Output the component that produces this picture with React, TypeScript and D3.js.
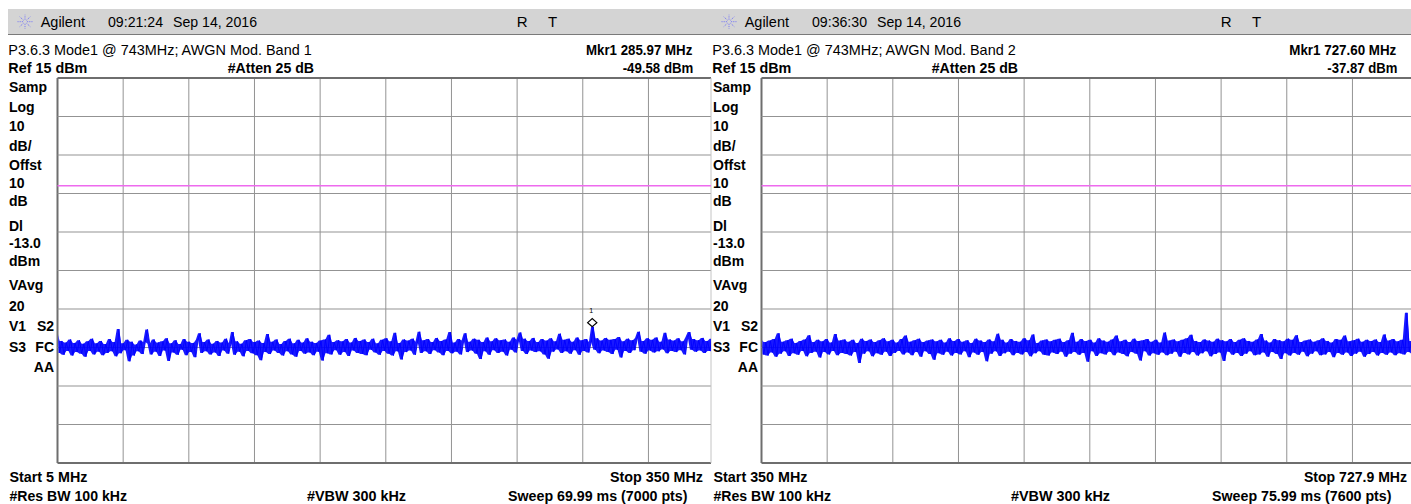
import React from 'react';
import * as d3 from 'd3';

// ---------- data ----------
const panelTimes = ['09:21:24', '09:36:30'];
const panelDates = ['Sep 14, 2016', 'Sep 14, 2016'];
const panelTitles = ['P3.6.3 Mode1 @ 743MHz; AWGN Mod. Band 1', 'P3.6.3 Mode1 @ 743MHz; AWGN Mod. Band 2'];
const markerFreqs = [285.97, 727.6];
const markerLevels = [-49.58, -37.87];
const startFreqs = [5, 350];
const stopFreqs = [350, 727.9];
const startLabels = ['Start 5 MHz', 'Start 350 MHz'];
const stopLabels = ['Stop 350 MHz', 'Stop 727.9 MHz'];
const sweepLabels = ['Sweep 69.99 ms (7000 pts)', 'Sweep 75.99 ms (7600 pts)'];
const refLevel = 15;
const dbPerDiv = 10;
const displayLine = -13;
const sideLabels = ['Samp', 'Log', '10', 'dB/', 'Offst', '10', 'dB', 'Dl', '-13.0', 'dBm', 'VAvg', '20', 'V1', 'S3', ''];
const sideLabels2 = ['', '', '', '', '', '', '', '', '', '', '', '', 'S2', 'FC', 'AA'];

const traceBand1 = [
  -51.4, -56.4, -53.3, -56.9, -53.7, -55.9, -52.9, -57.1, -53.8, -56.2,
  -53.1, -56.6, -54.0, -57.4, -53.4, -55.9, -52.7, -56.8, -53.9, -56.1,
  -53.3, -57.0, -54.1, -56.4, -52.8, -56.0, -53.6, -57.3, -50.2, -56.5,
  -53.9, -55.7, -53.0, -58.6, -53.5, -57.1, -54.2, -56.0, -53.2, -56.7,
  -53.6, -50.3, -54.0, -56.8, -52.9, -56.1, -53.7, -57.2, -53.4, -55.8,
  -52.6, -58.5, -53.9, -56.3, -53.1, -56.9, -54.1, -55.6, -52.8, -57.0,
  -53.5, -56.2, -53.8, -57.5, -53.0, -51.3, -56.4, -53.6, -56.0, -52.9,
  -56.8, -54.0, -56.3, -53.3, -57.2, -53.7, -55.8, -52.7, -56.6, -53.9,
  -51.0, -56.9, -53.4, -56.1, -54.0, -57.3, -53.1, -55.9, -52.8, -56.5,
  -53.6, -57.0, -53.2, -58.3, -53.8, -56.2, -51.5, -56.7, -53.5, -55.8,
  -52.9, -56.4, -54.1, -57.1, -53.3, -56.0, -52.7, -56.8, -53.9, -57.4,
  -53.0, -55.9, -53.7, -56.6, -52.6, -56.3, -53.5, -57.0, -53.8, -56.1,
  -53.2, -58.4, -52.9, -56.5, -51.7, -56.8, -53.6, -55.7, -53.1, -56.9,
  -53.4, -56.2, -52.8, -57.2, -53.7, -55.8, -52.5, -56.4, -53.3, -56.7,
  -52.9, -57.0, -53.6, -55.6, -52.7, -56.3, -53.9, -56.9, -53.0, -55.9,
  -52.6, -56.6, -53.4, -57.1, -51.2, -56.0, -53.8, -58.1, -52.9, -56.2,
  -53.2, -55.8, -52.7, -56.9, -53.5, -50.9, -56.4, -53.1, -56.0, -52.8,
  -56.7, -53.6, -55.7, -52.5, -56.3, -53.3, -57.0, -52.9, -55.9, -51.0,
  -56.5, -53.7, -56.1, -52.8, -56.8, -53.2, -51.3, -56.2, -53.5, -55.8,
  -52.7, -56.6, -53.0, -58.0, -53.6, -56.0, -52.4, -56.9, -53.4, -55.7,
  -52.6, -56.4, -53.1, -56.1, -52.9, -57.1, -53.5, -55.6, -52.4, -56.3,
  -53.0, -51.1, -55.9, -52.7, -56.7, -53.3, -55.8, -52.5, -56.2, -53.6,
  -56.0, -52.8, -56.8, -53.2, -57.9, -52.6, -56.1, -53.4, -55.5, -51.4,
  -56.4, -53.0, -56.0, -52.7, -56.6, -53.5, -55.7, -52.4, -56.9, -53.1,
  -55.9, -52.8, -56.3, -53.6, -49.6, -55.6, -52.6, -56.5, -53.2, -55.8,
  -52.5, -56.2, -53.0, -56.7, -52.8, -55.6, -52.3, -57.6, -53.4, -55.9,
  -52.7, -56.4, -53.1, -55.7, -52.5, -50.9, -56.1, -53.3, -56.6, -52.6,
  -55.8, -53.0, -56.3, -52.4, -56.0, -53.5, -55.5, -51.2, -56.5, -52.9,
  -55.9, -53.2, -56.2, -52.6, -55.7, -53.4, -56.8, -52.3, -51.0, -55.6,
  -52.8, -56.1, -53.1, -55.8, -52.5, -56.4, -53.3, -55.9, -52.7, -56.0,
];

const traceBand2 = [
  -53.0, -56.8, -53.6, -57.1, -53.2, -56.3, -52.8, -57.4, -51.3, -56.6,
  -53.5, -56.0, -53.1, -57.2, -52.7, -56.5, -53.8, -56.9, -53.3, -55.9,
  -52.9, -57.3, -51.8, -56.4, -53.6, -56.1, -53.0, -57.6, -53.4, -56.2,
  -52.8, -56.8, -53.7, -55.9, -51.5, -57.0, -53.2, -56.4, -52.9, -56.7,
  -53.5, -57.1, -53.0, -56.2, -53.8, -59.0, -52.7, -56.6, -53.3, -56.0,
  -52.9, -57.3, -53.6, -56.5, -53.1, -56.9, -52.6, -56.1, -53.4, -57.2,
  -53.0, -56.4, -53.7, -55.9, -52.8, -56.8, -51.9, -56.3, -53.5, -57.0,
  -53.1, -56.2, -52.7, -57.4, -53.6, -56.0, -53.2, -56.7, -52.9, -58.2,
  -53.4, -56.5, -53.0, -56.9, -53.7, -56.1, -52.6, -57.1, -53.3, -56.4,
  -52.8, -56.8, -53.5, -56.0, -53.1, -57.5, -53.8, -56.3, -52.7, -56.9,
  -53.2, -56.2, -53.6, -58.6, -52.9, -56.6, -53.4, -56.0, -51.4, -57.2,
  -53.0, -56.5, -53.7, -56.1, -52.8, -57.0, -53.3, -56.4, -53.5, -56.8,
  -52.6, -56.2, -53.1, -57.3, -51.6, -56.5, -53.8, -56.0, -53.2, -56.9,
  -52.9, -57.1, -53.4, -56.3, -53.0, -56.7, -52.7, -56.1, -53.6, -57.4,
  -53.1, -56.6, -51.2, -56.2, -53.5, -56.9, -52.8, -56.4, -53.3, -58.7,
  -53.0, -56.0, -53.7, -57.2, -52.6, -56.5, -53.2, -56.8, -53.5, -56.1,
  -52.9, -57.0, -51.9, -56.3, -53.4, -56.7, -53.0, -57.3, -53.6, -56.2,
  -52.7, -56.6, -53.3, -58.4, -53.1, -56.0, -52.8, -57.1, -53.5, -56.5,
  -53.0, -56.9, -53.7, -56.3, -51.1, -57.0, -53.2, -56.6, -52.9, -56.1,
  -53.4, -57.4, -53.0, -56.4, -52.6, -56.8, -51.7, -56.2, -53.3, -57.1,
  -53.6, -56.5, -52.9, -56.0, -53.2, -57.3, -53.5, -56.7, -52.7, -56.3,
  -53.1, -58.5, -53.4, -56.1, -52.8, -56.9, -53.6, -56.4, -53.0, -57.2,
  -52.6, -56.6, -53.3, -56.0, -53.5, -57.0, -52.9, -56.8, -51.5, -56.3,
  -53.2, -57.4, -53.7, -56.2, -52.8, -56.7, -53.1, -58.0, -53.4, -56.5,
  -52.7, -57.1, -53.0, -56.4, -51.8, -56.9, -53.6, -56.1, -53.2, -57.3,
  -52.9, -56.6, -53.5, -56.0, -53.1, -57.0, -52.6, -56.8, -53.3, -56.2,
  -53.7, -57.5, -52.8, -56.4, -53.0, -56.9, -51.9, -56.3, -53.4, -57.2,
  -53.1, -56.6, -52.7, -56.1, -53.5, -57.4, -53.0, -56.7, -53.3, -56.2,
  -52.9, -57.1, -53.6, -56.4, -51.6, -56.9, -53.2, -56.3, -52.8, -57.0,
  -53.4, -56.5, -53.0, -56.8, -46.0, -56.2, -53.3, -56.7, -53.1, -56.4,
];
const traces = [traceBand1, traceBand2];

// ---------- layout ----------
const W = 1411;
const H = 504;
const PANEL_DX = 704;
const GRID_L = 57.5;
const GRID_R = 714.1;
const GRID_T = 78;
const GRID_B = 463;
const PANEL_CLIP = [711, 1411];
const LABEL_Y = [91.7, 111.7, 130.7, 151, 170, 188.3, 206, 231, 248.3, 265.7, 290, 311, 331, 351.7, 371.7];

const regFont = "'Liberation Sans', Arial, sans-serif";
const narrowFont = "'Liberation Sans Narrow', 'Arial Narrow', 'Liberation Sans', sans-serif";

const mkrLen = [106.3, 107];
const lvlLen = [70.6, 70];
const startLen = [78, 94];
const stopLen = [93, 103];

function Panel({ k }: { k: number }) {
  const dx = PANEL_DX * k;
  const x = d3.scaleLinear().domain([startFreqs[k], stopFreqs[k]]).range([GRID_L + dx, GRID_R + dx]);
  const y = d3.scaleLinear().domain([refLevel - 10 * dbPerDiv, refLevel]).range([GRID_B, GRID_T]);
  const tr = traces[k];
  const step = (stopFreqs[k] - startFreqs[k]) / (tr.length - 1);
  const fx = (i: number) => x(startFreqs[k] + i * step);
  const line = d3.line<number>().x((_, i) => fx(i)).y((v) => y(v));
  // hull of each sample with its next neighbour: the dense core of the swept trace
  const lo = (i: number) => Math.min(tr[i], tr[Math.min(i + 1, tr.length - 1)]);
  const hi = (i: number) => Math.max(tr[i], tr[Math.min(i + 1, tr.length - 1)]);
  const band = d3.area<number>().x((_, i) => fx(i)).y0((_, i) => y(lo(i))).y1((_, i) => y(hi(i)));
  const vTicks = d3.range(11).map((i) => startFreqs[k] + (i * (stopFreqs[k] - startFreqs[k])) / 10);
  const hTicks = d3.range(11).map((j) => refLevel - j * dbPerDiv);
  const clipR = PANEL_CLIP[k];
  const mx = x(markerFreqs[k]);
  const my = y(markerLevels[k]);
  const showMarker = mx + 6 < clipR;
  const lx = 25 + dx;
  const ly = 21.7;
  const rays = d3.range(8).map((a) => (a * Math.PI) / 4);
  const sepX = k === 0 ? 711 : 0;

  return (
    <g>
      <defs>
        <clipPath id={`clipGrid${k}`}>
          <rect x={GRID_L + dx - 2} y={GRID_T - 2} width={clipR - (GRID_L + dx) + 2} height={GRID_B - GRID_T + 4} />
        </clipPath>
        <clipPath id={`clipTrace${k}`}>
          <rect x={GRID_L + dx + 1} y={GRID_T} width={clipR - (GRID_L + dx) - 1} height={GRID_B - GRID_T} />
        </clipPath>
      </defs>
      {/* title bar */}
      <rect x={8 + dx} y={9} width={(k === 0 ? 704 : W - 712)} height={25} fill="#d4d4d4" />
      <line x1={8 + dx} x2={k === 0 ? 712 : W} y1={34.5} y2={34.5} stroke="#7a7a7a" strokeWidth={1} />
      {rays.map((a, i) => (
        <line key={i} x1={lx + Math.cos(a) * 2} y1={ly + Math.sin(a) * 2} x2={lx + Math.cos(a) * 7.5} y2={ly + Math.sin(a) * 7}
          stroke="#7b7bf5" strokeWidth={1} strokeDasharray="1.2 1" />
      ))}
      <text x={40.7 + dx} y={26.7} fontFamily={regFont} fontSize={15} textLength={44.3} lengthAdjust="spacingAndGlyphs">Agilent</text>
      <text x={108 + dx} y={26.7} fontFamily={regFont} fontSize={15} textLength={55} lengthAdjust="spacingAndGlyphs">{panelTimes[k]}</text>
      <text x={173 + dx} y={26.7} fontFamily={regFont} fontSize={15} textLength={84} lengthAdjust="spacingAndGlyphs">{panelDates[k]}</text>
      <text x={516.7 + dx} y={26.7} fontFamily={regFont} fontSize={15}>R</text>
      <text x={548 + dx} y={26.7} fontFamily={regFont} fontSize={15}>T</text>

      {/* header lines */}
      <text x={8.3 + dx} y={55} fontFamily={regFont} fontSize={15} textLength={303.4} lengthAdjust="spacingAndGlyphs">{panelTitles[k]}</text>
      <text x={692.3 + dx} y={55} fontFamily={regFont} fontWeight="bold" fontSize={14} textAnchor="end" textLength={mkrLen[k]} lengthAdjust="spacingAndGlyphs">
        {`Mkr1  ${markerFreqs[k].toFixed(2)} MHz`}
      </text>
      <text x={8.3 + dx} y={73} fontFamily={regFont} fontWeight="bold" fontSize={14} textLength={79} lengthAdjust="spacingAndGlyphs">{`Ref ${refLevel} dBm`}</text>
      <text x={227.7 + dx} y={73} fontFamily={regFont} fontWeight="bold" fontSize={14} textLength={86.3} lengthAdjust="spacingAndGlyphs">#Atten 25 dB</text>
      <text x={693.3 + dx} y={73} fontFamily={regFont} fontWeight="bold" fontSize={14} textAnchor="end" textLength={lvlLen[k]} lengthAdjust="spacingAndGlyphs">
        {`${markerLevels[k].toFixed(2)} dBm`}
      </text>

      {/* side labels */}
      {sideLabels.map((s, i) => (
        <text key={'a' + i} x={9 + dx} y={LABEL_Y[i]} fontFamily={regFont} fontWeight="bold" fontSize={14}>{s}</text>
      ))}
      {sideLabels2.map((s, i) => (
        <text key={'b' + i} x={54 + dx} y={LABEL_Y[i]} fontFamily={regFont} fontWeight="bold" fontSize={14} textAnchor="end">{s}</text>
      ))}

      {/* grid */}
      <g clipPath={`url(#clipGrid${k})`}>
        {vTicks.map((f, i) => (
          <line key={'v' + i} x1={x(f)} x2={x(f)} y1={GRID_T} y2={GRID_B} stroke={i === 0 ? '#6e6e6e' : '#939393'} strokeWidth={i === 0 ? 2 : 1} />
        ))}
        {hTicks.map((v, j) => (
          <line key={'h' + j} x1={GRID_L + dx} x2={GRID_R + dx} y1={y(v)} y2={y(v)}
            stroke={j === 0 || j === 10 ? '#6e6e6e' : '#939393'} strokeWidth={j === 0 || j === 10 ? 2 : 1} />
        ))}
      </g>
      {sepX > 0 && <line x1={sepX} x2={sepX} y1={GRID_T} y2={GRID_B} stroke="#c4c4c4" strokeWidth={1} />}
      <line x1={GRID_L + dx} x2={clipR} y1={y(displayLine)} y2={y(displayLine)} stroke="#ee6aee" strokeWidth={1.6} />

      {/* trace */}
      <g clipPath={`url(#clipTrace${k})`}>
        <path d={band(tr) || ''} fill="#0000ff" fillOpacity={0.9} stroke="none" />
        <path d={line(tr) || ''} fill="none" stroke="#0000ff" strokeWidth={0.9} />
      </g>

      {/* marker */}
      {showMarker && (
        <g>
          <path d={`M${mx},${my} L${mx + 4.6},${my - 4} L${mx},${my - 8} L${mx - 4.6},${my - 4} Z`} fill="#fff" stroke="#000" strokeWidth={1.2} />
          <text x={mx - 1} y={my - 14} fontFamily={regFont} fontSize={7} textAnchor="middle">1</text>
        </g>
      )}

      {/* bottom */}
      <text x={9.5 + dx} y={482} fontFamily={narrowFont} fontWeight="bold" fontSize={15} textLength={startLen[k]} lengthAdjust="spacingAndGlyphs">{startLabels[k]}</text>
      <text x={703 + dx} y={482} fontFamily={narrowFont} fontWeight="bold" fontSize={15} textAnchor="end" textLength={stopLen[k]} lengthAdjust="spacingAndGlyphs">{stopLabels[k]}</text>
      <text x={9.5 + dx} y={500.5} fontFamily={narrowFont} fontWeight="bold" fontSize={15} textLength={117.5} lengthAdjust="spacingAndGlyphs">#Res BW 100 kHz</text>
      <text x={307 + dx} y={500.5} fontFamily={narrowFont} fontWeight="bold" fontSize={15} textLength={99} lengthAdjust="spacingAndGlyphs">#VBW 300 kHz</text>
      <text x={687.5 + dx} y={500.5} fontFamily={narrowFont} fontWeight="bold" fontSize={15} textAnchor="end" textLength={179.5} lengthAdjust="spacingAndGlyphs">{sweepLabels[k]}</text>
    </g>
  );
}

export default function App() {
  return (
    <svg width={W} height={H} viewBox={`0 0 ${W} ${H}`}
      style={{ position: 'absolute', left: 0, top: 0, background: '#fff', display: 'block' }}>
      <rect x={0} y={0} width={W} height={H} fill="#fff" />
      <Panel k={0} />
      <Panel k={1} />
    </svg>
  );
}
